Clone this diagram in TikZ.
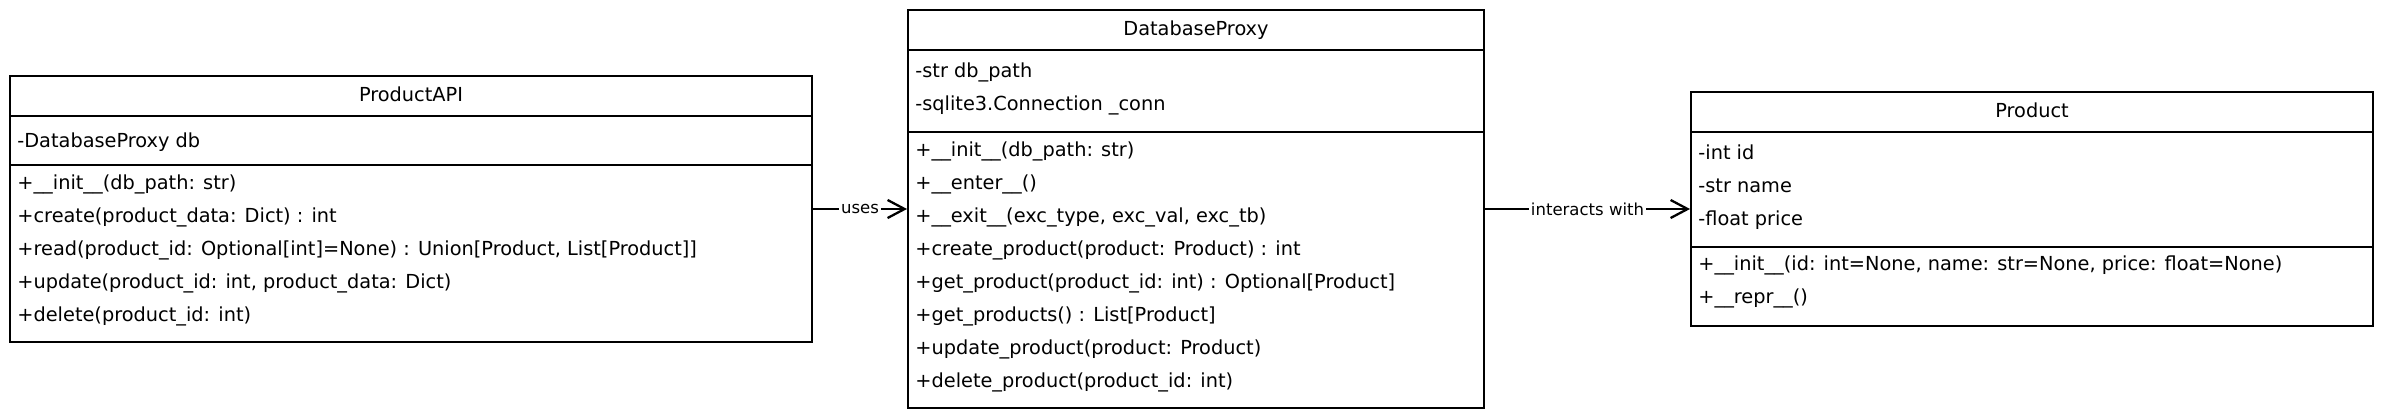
\documentclass[tikz,border=0pt]{standalone}
\usepackage{fontspec}
\setmainfont{DejaVu Sans}
\usetikzlibrary{arrows.meta,positioning}

\begin{document}
\begin{tikzpicture}[>={Straight Barb[length=0.34cm,width=0.36cm]},font=\fontsize{11}{13}\selectfont]
\tikzstyle{cls}=[draw,line width=1.1pt,inner sep=0pt]
\tikzstyle{divider}=[line width=0.9pt]
\tikzstyle{ttl}=[inner sep=0pt,text height=1.6ex,text depth=0.45ex]
\tikzstyle{field}=[inner sep=0pt,text height=1.9ex,text depth=0.3ex,anchor=west]
\tikzstyle{lbl}=[fill=white,inner sep=1pt,font=\fontsize{9.4}{10}\selectfont]
\useasboundingbox (0,0) rectangle (47.66,8.36);
% ProductAPI
\node[cls,minimum width=16.04cm,minimum height=5.32cm] (pa) at (8.22,4.18) {};
\draw[divider] ([yshift=-0.82cm]pa.north west) -- ([yshift=-0.82cm]pa.north east);
\draw[divider] ([yshift=-1.80cm]pa.north west) -- ([yshift=-1.80cm]pa.north east);
\node[ttl] (pa-name) at ([yshift=-0.41cm]pa.north) {ProductAPI};
\node[field] (pa-db) at ([xshift=0.16cm,yshift=-1.30cm]pa.north west) {-DatabaseProxy db};
\node[field] (pa-init) at ([xshift=0.16cm,yshift=-2.14cm]pa.north west) {+\_\_init\_\_(db\_path: str)};
\node[field] (pa-create) at ([xshift=0.16cm,yshift=-2.80cm]pa.north west) {+create(product\_data: Dict) : int};
\node[field] (pa-read) at ([xshift=0.16cm,yshift=-3.46cm]pa.north west) {+read(product\_id: Optional[int]=None) : Union[Product, List[Product]]};
\node[field] (pa-update) at ([xshift=0.16cm,yshift=-4.12cm]pa.north west) {+update(product\_id: int, product\_data: Dict)};
\node[field] (pa-delete) at ([xshift=0.16cm,yshift=-4.78cm]pa.north west) {+delete(product\_id: int)};
% DatabaseProxy
\node[cls,minimum width=11.52cm,minimum height=7.96cm] (dp) at (23.92,4.18) {};
\draw[divider] ([yshift=-0.82cm]dp.north west) -- ([yshift=-0.82cm]dp.north east);
\draw[divider] ([yshift=-2.46cm]dp.north west) -- ([yshift=-2.46cm]dp.north east);
\node[ttl] (dp-name) at ([yshift=-0.41cm]dp.north) {DatabaseProxy};
\node[field] (dp-path) at ([xshift=0.16cm,yshift=-1.22cm]dp.north west) {-str db\_path};
\node[field] (dp-conn) at ([xshift=0.16cm,yshift=-1.88cm]dp.north west) {-sqlite3.Connection \_conn};
\node[field] (dp-init) at ([xshift=0.16cm,yshift=-2.80cm]dp.north west) {+\_\_init\_\_(db\_path: str)};
\node[field] (dp-enter) at ([xshift=0.16cm,yshift=-3.46cm]dp.north west) {+\_\_enter\_\_()};
\node[field] (dp-exit) at ([xshift=0.16cm,yshift=-4.12cm]dp.north west) {+\_\_exit\_\_(exc\_type, exc\_val, exc\_tb)};
\node[field] (dp-create) at ([xshift=0.16cm,yshift=-4.78cm]dp.north west) {+create\_product(product: Product) : int};
\node[field] (dp-get) at ([xshift=0.16cm,yshift=-5.44cm]dp.north west) {+get\_product(product\_id: int) : Optional[Product]};
\node[field] (dp-list) at ([xshift=0.16cm,yshift=-6.10cm]dp.north west) {+get\_products() : List[Product]};
\node[field] (dp-update) at ([xshift=0.16cm,yshift=-6.76cm]dp.north west) {+update\_product(product: Product)};
\node[field] (dp-delete) at ([xshift=0.16cm,yshift=-7.42cm]dp.north west) {+delete\_product(product\_id: int)};
% Product
\node[cls,minimum width=13.64cm,minimum height=4.68cm] (prod) at (40.64,4.18) {};
\draw[divider] ([yshift=-0.82cm]prod.north west) -- ([yshift=-0.82cm]prod.north east);
\draw[divider] ([yshift=-3.12cm]prod.north west) -- ([yshift=-3.12cm]prod.north east);
\node[ttl] (prod-name) at ([yshift=-0.41cm]prod.north) {Product};
\node[field] (prod-id) at ([xshift=0.16cm,yshift=-1.22cm]prod.north west) {-int id};
\node[field] (prod-nm) at ([xshift=0.16cm,yshift=-1.88cm]prod.north west) {-str name};
\node[field] (prod-price) at ([xshift=0.16cm,yshift=-2.54cm]prod.north west) {-float price};
\node[field] (prod-init) at ([xshift=0.16cm,yshift=-3.44cm]prod.north west) {+\_\_init\_\_(id: int=None, name: str=None, price: float=None)};
\node[field] (prod-repr) at ([xshift=0.16cm,yshift=-4.10cm]prod.north west) {+\_\_repr\_\_()};
% associations
\draw[->,line width=1.3pt] (pa) -- node[lbl]{uses} (dp);
\draw[->,line width=1.3pt] (dp) -- node[lbl]{interacts with} (prod);
\end{tikzpicture}
\end{document}
